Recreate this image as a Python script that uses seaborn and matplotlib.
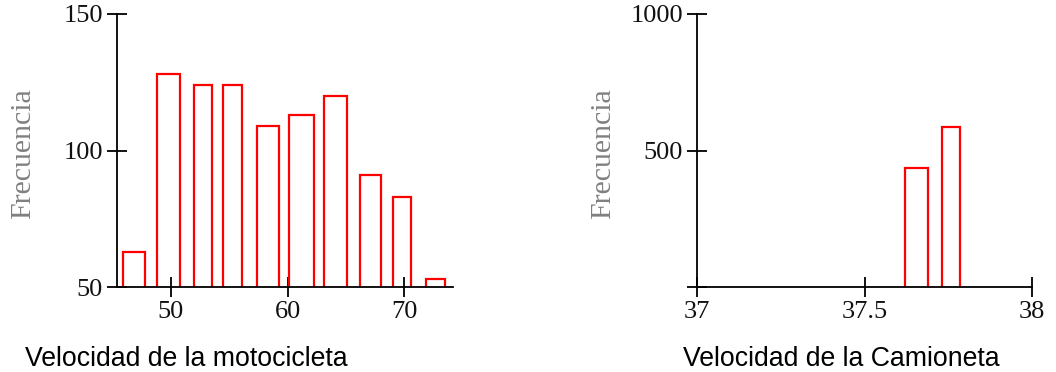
import matplotlib
matplotlib.use("Agg")
import matplotlib.pyplot as plt
import seaborn as sns
import numpy as np

# ---- data ----
moto_left = [45.9, 48.8, 52.0, 54.5, 57.4, 60.1, 63.1, 66.2, 69.05, 71.9]
moto_right = [47.8, 50.8, 53.5, 56.1, 59.3, 62.3, 65.1, 68.05, 70.6, 73.5]
moto_freq = [63, 128, 124, 124, 109, 113, 120, 91, 83, 53]
moto_xticks = [50, 60, 70]
moto_yticks = [50, 100, 150]

cam_left = [37.62, 37.73]
cam_right = [37.69, 37.785]
cam_freq = [435, 587]
cam_xticks = [37, 37.5, 38]
cam_xticklabels = ["37", "37.5", "38"]
cam_yticks = [0, 500, 1000]
cam_yticklabels = ["", "500", "1000"]

ylabel = "Frecuencia"
title_moto = "Velocidad de la motocicleta"
title_cam = "Velocidad de la Camioneta"

sns.set_theme(style="ticks")
plt.rcParams["font.family"] = ["Liberation Serif", "DejaVu Serif"]

fig = plt.figure(figsize=(10.56, 3.72), dpi=100)
W, H = 1056, 372
ax1 = fig.add_axes([117 / W, (H - 287) / H, 336 / W, 273 / H])
ax2 = fig.add_axes([697 / W, (H - 287) / H, 335 / W, 273 / H])


def draw(ax, lefts, rights, freqs, xlim, ylim):
    lefts = np.asarray(lefts)
    rights = np.asarray(rights)
    base = ylim[0] - 0.05 * (ylim[1] - ylim[0])
    ax.bar(lefts, np.asarray(freqs) - base, width=rights - lefts, bottom=base,
           align="edge", fill=False, edgecolor="#ff0000", linewidth=1.6,
           clip_on=True)
    ax.set_xlim(*xlim)
    ax.set_ylim(*ylim)
    sns.despine(ax=ax)
    for s in ("left", "bottom"):
        ax.spines[s].set_color("black")
        ax.spines[s].set_linewidth(1.3)
    ax.tick_params(direction="inout", length=14.4, width=1.3, color="black",
                   labelsize=19, labelcolor="#111111", pad=3)
    ax.set_ylabel(ylabel, fontsize=21.5, color="#808080")
    ax.yaxis.set_label_coords(-0.24, 0.487)
    ax.set_xlabel("")
    ax.grid(False)


draw(ax1, moto_left, moto_right, moto_freq, (45.37, 74.2), (50, 150))
ax1.set_xticks(moto_xticks)
ax1.set_yticks(moto_yticks)

draw(ax2, cam_left, cam_right, cam_freq, (37, 38), (0, 1000))
ax2.set_xticks(cam_xticks, cam_xticklabels)
ax2.set_yticks(cam_yticks, cam_yticklabels)

fig.text(25 / W, (H - 366) / H, title_moto, family="Liberation Sans",
         fontsize=19.2, color="black", ha="left", va="baseline")
fig.text(683 / W, (H - 366) / H, title_cam, family="Liberation Sans",
         fontsize=19.2, color="black", ha="left", va="baseline")

fig.savefig("out.png", dpi=100, facecolor="white")
